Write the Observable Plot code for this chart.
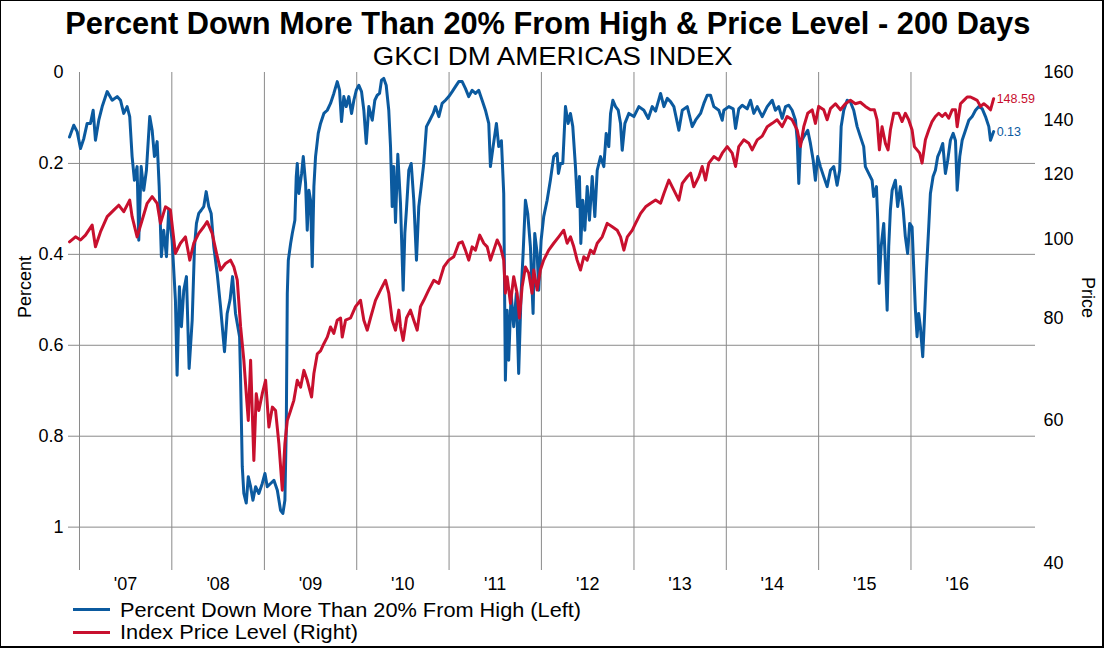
<!DOCTYPE html>
<html><head><meta charset="utf-8">
<script src="https://cdn.jsdelivr.net/npm/d3@7"></script>
<script src="https://cdn.jsdelivr.net/npm/@observablehq/plot@0.6"></script>
<style>
html,body{margin:0;padding:0;background:#fff;}
#wrap{position:relative;width:1104px;height:648px;overflow:hidden;font-family:"Liberation Sans",Arial,sans-serif;color:#000;background:#fff;}
#frame{position:absolute;left:0;top:0;width:1104px;height:648px;box-sizing:border-box;border:1px solid #000;border-right-width:2px;border-bottom-width:2px;pointer-events:none;}
.fit{position:absolute;white-space:nowrap;line-height:1;}
#title{font-weight:bold;font-size:31px;top:8px;}
#subtitle{font-size:26px;top:43px;}
#chart{position:absolute;left:0;top:66px;}
.leg{position:absolute;left:120px;font-size:20px;white-space:nowrap;line-height:1;transform-origin:0 50%;}
.sw{position:absolute;left:73px;width:37px;height:3px;}
</style></head>
<body>
<div id="wrap">
  <div id="title" class="fit"></div>
  <div id="subtitle" class="fit"></div>
  <div id="chart"></div>
  <div class="sw" id="sw1"></div><div class="leg" id="leg1"></div>
  <div class="sw" id="sw2"></div><div class="leg" id="leg2"></div>
  <div id="frame"></div>
</div>
<script>
// ---- texts ----
const titleText = "Percent Down More Than 20% From High & Price Level - 200 Days";
const subtitleText = "GKCI DM AMERICAS INDEX";
const seriesNames = ["Percent Down More Than 20% From High (Left)", "Index Price Level (Right)"];
const leftAxisLabel = "Percent";
const rightAxisLabel = "Price";

// ---- axes ----
const pctTicks = [0, 0.2, 0.4, 0.6, 0.8, 1];
const pctGrid = [0.2, 0.4, 0.6, 0.8, 1];
const priceTicks = [40, 60, 80, 100, 120, 140, 160];
const years = [2007, 2008, 2009, 2010, 2011, 2012, 2013, 2014, 2015, 2016];
const yearLabels = ["'07", "'08", "'09", "'10", "'11", "'12", "'13", "'14", "'15", "'16"];

// ---- series: percent down more than 20% from high (decimal year, fraction) ----
const pctDates = [2006.892,2006.938,2006.975,2007.011,2007.047,2007.083,2007.119,2007.148,2007.173,2007.209,2007.246,2007.300,2007.354,2007.408,2007.444,2007.479,2007.516,2007.544,2007.570,2007.595,2007.624,2007.642,2007.668,2007.696,2007.725,2007.761,2007.787,2007.812,2007.841,2007.863,2007.887,2007.912,2007.942,2007.966,2008.003,2008.039,2008.057,2008.082,2008.104,2008.129,2008.158,2008.187,2008.220,2008.245,2008.266,2008.291,2008.317,2008.345,2008.371,2008.399,2008.425,2008.453,2008.490,2008.526,2008.569,2008.598,2008.629,2008.656,2008.688,2008.732,2008.743,2008.761,2008.778,2008.804,2008.826,2008.851,2008.876,2008.905,2008.940,2008.977,2009.006,2009.031,2009.067,2009.103,2009.140,2009.175,2009.200,2009.222,2009.237,2009.248,2009.259,2009.284,2009.302,2009.330,2009.345,2009.356,2009.373,2009.403,2009.421,2009.446,2009.464,2009.482,2009.500,2009.518,2009.536,2009.554,2009.583,2009.608,2009.644,2009.681,2009.716,2009.752,2009.789,2009.814,2009.835,2009.860,2009.886,2009.914,2009.944,2009.969,2009.995,2010.023,2010.052,2010.077,2010.103,2010.131,2010.168,2010.196,2010.222,2010.247,2010.268,2010.293,2010.319,2010.347,2010.366,2010.384,2010.401,2010.420,2010.445,2010.474,2010.503,2010.521,2010.539,2010.564,2010.590,2010.618,2010.647,2010.672,2010.698,2010.726,2010.755,2010.791,2010.828,2010.853,2010.889,2010.925,2010.961,2010.997,2011.034,2011.069,2011.105,2011.142,2011.177,2011.213,2011.250,2011.286,2011.321,2011.358,2011.394,2011.430,2011.448,2011.477,2011.513,2011.538,2011.567,2011.592,2011.610,2011.629,2011.646,2011.672,2011.700,2011.729,2011.754,2011.780,2011.802,2011.827,2011.852,2011.881,2011.910,2011.928,2011.954,2011.971,2011.997,2012.025,2012.062,2012.097,2012.133,2012.170,2012.184,2012.206,2012.231,2012.260,2012.289,2012.314,2012.339,2012.368,2012.390,2012.411,2012.426,2012.447,2012.469,2012.495,2012.519,2012.549,2012.577,2012.603,2012.639,2012.674,2012.700,2012.728,2012.747,2012.772,2012.801,2012.830,2012.855,2012.873,2012.902,2012.945,2012.999,2013.053,2013.107,2013.155,2013.198,2013.234,2013.288,2013.324,2013.361,2013.396,2013.432,2013.486,2013.523,2013.577,2013.631,2013.667,2013.721,2013.757,2013.793,2013.829,2013.865,2013.919,2013.956,2013.973,2014.027,2014.075,2014.100,2014.135,2014.172,2014.226,2014.262,2014.298,2014.335,2014.389,2014.443,2014.497,2014.532,2014.568,2014.605,2014.641,2014.677,2014.713,2014.749,2014.768,2014.785,2014.803,2014.839,2014.882,2014.911,2014.941,2014.965,2014.990,2015.019,2015.055,2015.092,2015.128,2015.164,2015.200,2015.228,2015.244,2015.272,2015.309,2015.344,2015.380,2015.417,2015.452,2015.488,2015.506,2015.542,2015.579,2015.596,2015.626,2015.640,2015.655,2015.677,2015.705,2015.723,2015.742,2015.759,2015.777,2015.796,2015.831,2015.856,2015.885,2015.915,2015.939,2015.964,2015.986,2016.012,2016.029,2016.048,2016.066,2016.083,2016.102,2016.127,2016.145,2016.167,2016.192,2016.210,2016.239,2016.264,2016.289,2016.318,2016.343,2016.372,2016.397,2016.426,2016.456,2016.481,2016.499,2016.527,2016.553,2016.589,2016.625,2016.661,2016.697,2016.733,2016.770,2016.805,2016.841,2016.859,2016.893];
const pctValues = [0.142,0.116,0.130,0.167,0.145,0.112,0.112,0.083,0.149,0.105,0.075,0.042,0.061,0.053,0.061,0.090,0.075,0.097,0.185,0.237,0.207,0.369,0.207,0.259,0.215,0.097,0.127,0.185,0.152,0.251,0.405,0.347,0.405,0.303,0.369,0.501,0.666,0.471,0.559,0.479,0.449,0.651,0.545,0.383,0.332,0.310,0.303,0.295,0.262,0.295,0.310,0.383,0.442,0.515,0.614,0.530,0.500,0.449,0.530,0.581,0.677,0.867,0.926,0.947,0.889,0.911,0.941,0.911,0.926,0.904,0.882,0.911,0.904,0.897,0.919,0.963,0.970,0.941,0.779,0.486,0.413,0.376,0.354,0.325,0.229,0.200,0.266,0.222,0.185,0.244,0.347,0.259,0.281,0.427,0.251,0.185,0.134,0.112,0.090,0.083,0.068,0.046,0.020,0.039,0.108,0.053,0.075,0.053,0.090,0.061,0.039,0.028,0.042,0.083,0.156,0.075,0.105,0.061,0.050,0.046,0.017,0.013,0.028,0.083,0.163,0.295,0.207,0.330,0.180,0.288,0.479,0.354,0.300,0.215,0.200,0.281,0.413,0.295,0.251,0.200,0.119,0.105,0.090,0.075,0.097,0.068,0.061,0.053,0.042,0.031,0.020,0.020,0.035,0.053,0.039,0.046,0.039,0.061,0.083,0.112,0.207,0.163,0.112,0.163,0.150,0.266,0.677,0.523,0.633,0.486,0.559,0.486,0.662,0.486,0.398,0.281,0.310,0.383,0.530,0.354,0.398,0.479,0.369,0.317,0.281,0.237,0.185,0.178,0.222,0.200,0.200,0.075,0.112,0.090,0.119,0.207,0.295,0.229,0.376,0.281,0.347,0.251,0.325,0.229,0.317,0.215,0.185,0.207,0.134,0.163,0.090,0.061,0.075,0.083,0.112,0.171,0.112,0.090,0.097,0.075,0.083,0.101,0.075,0.085,0.046,0.075,0.057,0.064,0.075,0.127,0.083,0.075,0.119,0.105,0.090,0.068,0.050,0.050,0.075,0.083,0.105,0.083,0.075,0.080,0.123,0.080,0.072,0.080,0.061,0.090,0.075,0.097,0.075,0.061,0.083,0.075,0.101,0.075,0.072,0.083,0.105,0.149,0.244,0.156,0.141,0.127,0.156,0.193,0.237,0.185,0.207,0.229,0.251,0.215,0.207,0.248,0.215,0.119,0.083,0.061,0.065,0.083,0.119,0.141,0.163,0.207,0.222,0.237,0.273,0.251,0.325,0.464,0.383,0.332,0.420,0.523,0.383,0.303,0.259,0.237,0.295,0.251,0.300,0.361,0.398,0.332,0.340,0.427,0.523,0.581,0.530,0.560,0.625,0.545,0.435,0.339,0.266,0.229,0.215,0.185,0.171,0.156,0.222,0.193,0.149,0.134,0.150,0.259,0.185,0.149,0.127,0.105,0.097,0.083,0.075,0.080,0.097,0.119,0.149,0.130];

// ---- series: index price level (decimal year, price) ----
const priceDates = [2006.892,2006.957,2007.011,2007.065,2007.137,2007.173,2007.227,2007.300,2007.371,2007.425,2007.479,2007.544,2007.570,2007.624,2007.679,2007.733,2007.787,2007.841,2007.877,2007.931,2007.985,2008.039,2008.093,2008.147,2008.194,2008.237,2008.291,2008.345,2008.382,2008.436,2008.483,2008.526,2008.580,2008.634,2008.670,2008.707,2008.743,2008.778,2008.804,2008.826,2008.851,2008.886,2008.912,2008.940,2008.977,2009.013,2009.049,2009.086,2009.121,2009.157,2009.194,2009.222,2009.248,2009.284,2009.319,2009.356,2009.392,2009.428,2009.464,2009.511,2009.536,2009.573,2009.608,2009.644,2009.681,2009.716,2009.752,2009.789,2009.825,2009.843,2009.879,2009.933,2009.987,2010.041,2010.077,2010.114,2010.149,2010.203,2010.258,2010.312,2010.347,2010.384,2010.420,2010.456,2010.474,2010.503,2010.539,2010.582,2010.618,2010.655,2010.690,2010.726,2010.780,2010.835,2010.889,2010.943,2010.997,2011.051,2011.105,2011.142,2011.177,2011.213,2011.250,2011.286,2011.332,2011.376,2011.413,2011.448,2011.484,2011.521,2011.557,2011.592,2011.610,2011.629,2011.665,2011.700,2011.737,2011.762,2011.791,2011.827,2011.863,2011.899,2011.917,2011.954,2011.989,2012.025,2012.079,2012.133,2012.187,2012.241,2012.278,2012.314,2012.350,2012.386,2012.422,2012.458,2012.495,2012.530,2012.566,2012.603,2012.657,2012.711,2012.765,2012.819,2012.855,2012.891,2012.928,2012.982,2013.017,2013.072,2013.126,2013.180,2013.234,2013.288,2013.324,2013.378,2013.432,2013.486,2013.523,2013.577,2013.613,2013.648,2013.702,2013.739,2013.775,2013.811,2013.865,2013.919,2013.956,2014.010,2014.064,2014.100,2014.135,2014.189,2014.244,2014.280,2014.335,2014.389,2014.443,2014.497,2014.551,2014.605,2014.659,2014.713,2014.768,2014.803,2014.839,2014.882,2014.930,2014.965,2015.001,2015.055,2015.092,2015.128,2015.182,2015.236,2015.290,2015.344,2015.398,2015.452,2015.506,2015.561,2015.604,2015.633,2015.658,2015.687,2015.723,2015.752,2015.777,2015.813,2015.867,2015.904,2015.939,2015.975,2016.012,2016.037,2016.066,2016.094,2016.120,2016.156,2016.192,2016.228,2016.264,2016.300,2016.337,2016.372,2016.408,2016.445,2016.481,2016.499,2016.535,2016.571,2016.607,2016.643,2016.679,2016.715,2016.751,2016.787,2016.823,2016.859,2016.893];
const priceValues = [99.2,100.6,99.7,101.1,104.0,97.8,102.0,106.5,108.5,110.0,108.0,111.6,106.5,100.6,105.5,110.6,112.7,110.6,104.5,109.5,108.5,96.0,98.8,100.6,94.2,98.8,101.6,103.5,105.0,101.6,96.0,91.6,93.3,94.2,92.4,89.0,78.0,71.0,64.6,59.9,71.0,53.5,64.6,61.6,64.6,67.1,58.8,62.2,61.6,56.1,49.2,56.1,59.9,61.6,63.4,67.1,65.8,69.0,67.1,64.0,68.4,72.3,72.9,74.4,75.8,78.0,76.6,79.5,80.0,75.8,79.5,80.0,82.6,84.1,79.5,77.3,80.0,84.1,86.6,89.0,85.8,79.5,77.3,81.8,78.0,75.1,80.0,81.8,79.5,77.3,82.6,84.1,86.6,89.0,88.2,92.4,94.2,95.1,98.8,99.2,96.9,94.2,97.8,96.9,101.1,98.8,97.8,94.2,96.9,99.7,97.8,94.2,85.8,89.9,83.4,89.9,85.8,80.0,87.3,92.4,90.8,85.8,91.6,86.6,91.6,94.2,96.9,98.8,100.6,102.5,98.8,100.6,97.8,94.2,91.6,95.1,94.2,96.9,96.0,98.8,100.6,104.5,103.5,102.5,100.6,96.9,100.6,102.5,104.5,107.5,109.5,110.6,111.6,110.6,113.7,118.1,114.8,111.6,117.0,119.2,120.4,115.9,119.2,122.7,118.1,123.9,126.2,125.0,127.4,129.8,127.4,122.7,129.8,132.3,131.0,128.6,132.3,133.7,137.3,138.6,140.0,137.3,141.3,140.0,136.0,129.8,137.3,142.6,144.0,138.6,145.4,144.0,140.0,144.5,146.5,144.0,146.5,147.9,146.5,147.1,145.4,144.0,144.0,140.0,128.6,137.3,131.0,128.6,136.0,142.6,142.6,139.3,142.6,140.0,136.0,129.8,128.6,127.4,123.9,132.3,136.0,139.3,141.3,142.6,141.3,142.6,140.6,144.0,144.0,137.3,146.5,147.9,149.3,149.3,148.6,147.9,145.4,146.5,145.4,144.0,148.59];

// ---- colours ----
const BLUE = "#0b5a9f";
const RED = "#c8102e";
const GRID = "#8a8a8a";

// ---- helpers ----
const toDate = t => { const y = Math.floor(t); const a = Date.UTC(y,0,1), b = Date.UTC(y+1,0,1); return new Date(a + (t - y) * (b - a)); };
const YMAX = 1.08;               // left axis runs 0 .. 1.08 (reversed)
const PTOP = 160, PBOT = 40;     // right axis (log) runs 160 .. 40, aligned with the left one
const priceToY = p => Math.log(PTOP / p) / Math.log(PTOP / PBOT) * YMAX;
const yToPrice = y => PTOP * Math.pow(PTOP / PBOT, -y / YMAX);

const pctData = pctDates.map((t, i) => ({date: toDate(t), v: pctValues[i]}));
const priceData = priceDates.map((t, i) => ({date: toDate(t), v: priceValues[i], y: priceToY(priceValues[i])}));
const lastPct = pctData[pctData.length - 1];
const lastPrice = priceData[priceData.length - 1];

const chart = Plot.plot({
  width: 1104, height: 534,
  marginTop: 6, marginBottom: 37, marginLeft: 68, marginRight: 69,
  style: {fontFamily: "Liberation Sans, Arial, sans-serif", fontSize: "18px", color: "#000", background: "transparent", overflow: "visible"},
  x: {type: "utc", domain: [toDate(2006.881), toDate(2017.346)], axis: null},
  y: {domain: [0, YMAX], reverse: true, axis: null},
  marks: [
    Plot.ruleY(pctGrid, {stroke: GRID, strokeWidth: 1}),
    Plot.ruleX(years, {x: y => new Date(Date.UTC(y, 0, 1)), stroke: GRID, strokeWidth: 1, insetBottom: -7}),
    Plot.axisY(pctTicks, {anchor: "left", tickSize: 0, tickPadding: 5, tickFormat: d => String(d), label: null, fontSize: 18}),
    Plot.axisY(priceTicks.map(priceToY), {anchor: "right", tickSize: 0, tickPadding: 8, tickFormat: d => String(Math.round(yToPrice(d))), label: null, fontSize: 18}),
    Plot.axisX(years.map(y => new Date(Date.UTC(y, 6, 2))), {anchor: "bottom", tickSize: 0, tickPadding: 14, tickFormat: d => yearLabels[years.indexOf(d.getUTCFullYear())], label: null, fontSize: 18}),
    Plot.line(pctData, {x: "date", y: "v", stroke: BLUE, strokeWidth: 3, strokeLinejoin: "round"}),
    Plot.line(priceData, {x: "date", y: "y", stroke: RED, strokeWidth: 3, strokeLinejoin: "round"}),
    Plot.text([lastPrice], {x: "date", y: "y", text: d => d3.format(".2f")(d.v), fill: RED, textAnchor: "start", dx: 3, fontSize: 12.5}),
    Plot.text([lastPct], {x: "date", y: "v", text: d => d3.format(".2f")(d.v), fill: BLUE, textAnchor: "start", dx: 3, fontSize: 12.5}),
    Plot.text([leftAxisLabel], {text: d => d, frameAnchor: "left", dx: -43, rotate: -90, fontSize: 18}),
    Plot.text([rightAxisLabel], {text: d => d, frameAnchor: "right", dx: 52, rotate: 90, fontSize: 18})
  ]
});
document.getElementById("chart").appendChild(chart);

// ---- title / subtitle / legend ----
function fit(el, text, targetWidth, centerX) {
  el.textContent = text;
  const w = el.getBoundingClientRect().width;
  const s = targetWidth / w;
  el.style.left = (centerX - w / 2) + "px";
  el.style.transform = "scaleX(" + s + ")";
  el.style.transformOrigin = "50% 50%";
}
fit(document.getElementById("title"), titleText, 965, 548);
fit(document.getElementById("subtitle"), subtitleText, 360, 553);

const leg1 = document.getElementById("leg1"), leg2 = document.getElementById("leg2");
leg1.textContent = seriesNames[0]; leg2.textContent = seriesNames[1];
leg1.style.top = "600px"; leg2.style.top = "622px";
const sw1 = document.getElementById("sw1"), sw2 = document.getElementById("sw2");
sw1.style.background = BLUE; sw1.style.top = "608px";
sw2.style.background = RED; sw2.style.top = "631px";
const legScale = 238 / leg2.getBoundingClientRect().width;
leg1.style.transform = "scaleX(" + legScale + ")";
leg2.style.transform = "scaleX(" + legScale + ")";
</script>
</body></html>
